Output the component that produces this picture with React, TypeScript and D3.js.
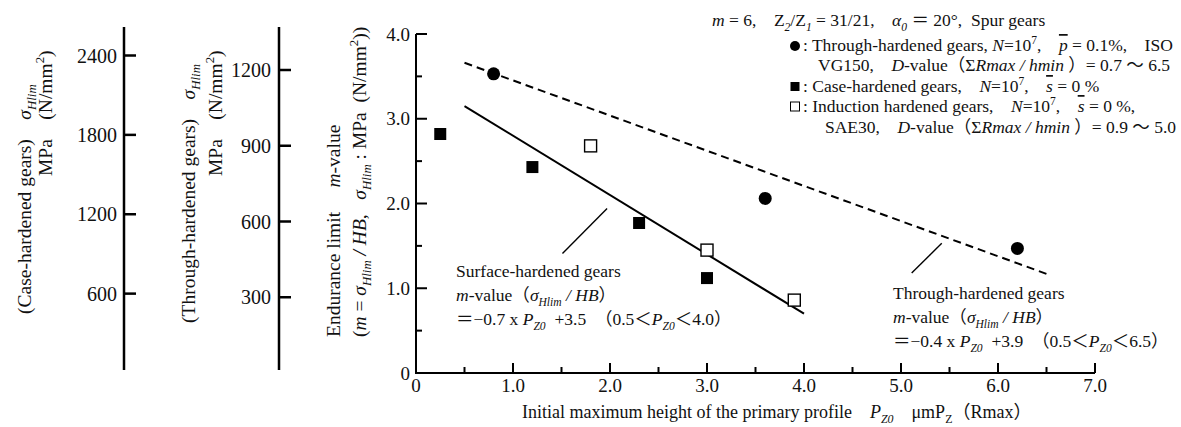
import * as d3 from 'd3';
import React from 'react';

// data
const throughX = [0.8, 3.6, 6.2];
const throughY = [3.53, 2.06, 1.47];
const caseX = [0.25, 1.2, 2.3, 3.0];
const caseY = [2.82, 2.43, 1.77, 1.12];
const inductionX = [1.8, 3.0, 3.9];
const inductionY = [2.68, 1.45, 0.86];
// fitted lines (end points)
const surfaceFitX = [0.5, 4.0];
const surfaceFitY = [3.15, 0.7];
const throughFitX = [0.5, 6.5];
const throughFitY = [3.66, 1.17];
// leader lines for the two notes
const surfaceLeaderX = [1.97, 1.51];
const surfaceLeaderY = [1.94, 1.41];
const throughLeaderX = [5.42, 5.11];
const throughLeaderY = [1.53, 1.18];

const xTicks = [0, 1, 2, 3, 4, 5, 6, 7];
const xTickLabels = ['0', '1.0', '2.0', '3.0', '4.0', '5.0', '6.0', '7.0'];
const yTicks = [0, 1, 2, 3, 4];
const yTickLabels = ['0', '1.0', '2.0', '3.0', '4.0'];
const caseTicks = [600, 1200, 1800, 2400];
const throughTicks = [300, 600, 900, 1200];

const FONT = '"Liberation Serif", "Times New Roman", "Noto Sans CJK JP", serif';

type Part = { t: string; i?: boolean; sub?: boolean; sup?: boolean; ol?: boolean };
const r = (t: string): Part => ({ t });
const it = (t: string): Part => ({ t, i: true });
const sb = (t: string, i = true): Part => ({ t, sub: true, i });
const sp = (t: string): Part => ({ t, sup: true });
const ol = (t: string): Part => ({ t, i: true, ol: true });

function Rich({ x, y, parts, size = 17.5, anchor = 'start', rotate = false }:
  { x: number; y: number; parts: Part[]; size?: number; anchor?: string; rotate?: boolean }) {
  let shift = 0;
  const spans = parts.map((p, k) => {
    const target = p.sub ? size * 0.28 : p.sup ? -size * 0.42 : 0;
    const dy = target - shift;
    shift = target;
    return (
      <tspan key={k} dy={dy || undefined}
        fontStyle={p.i ? 'italic' : undefined}
        fontSize={p.sub || p.sup ? size * 0.66 : undefined}
        textDecoration={p.ol ? 'overline' : undefined}>{p.t}</tspan>
    );
  });
  return (
    <text x={x} y={y} fontSize={size} textAnchor={anchor}
      transform={rotate ? `rotate(-90 ${x} ${y})` : undefined}
      style={{ whiteSpace: 'pre' }}>{spans}</text>
  );
}

export default function App() {
  const x = d3.scaleLinear().domain([0, 7]).range([416, 1095]);
  const y = d3.scaleLinear().domain([0, 4]).range([373, 34]);
  const yCase = d3.scaleLinear().domain([0, 2400]).range([373, 55.5]);
  const yThrough = d3.scaleLinear().domain([0, 1200]).range([373, 70]);

  const fit = (xs: number[], ys: number[]) =>
    d3.line<number>().x((d) => x(d)).y((d, i) => y(ys[i]))(xs) as string;

  const minorX = d3.range(0.5, 7, 1);
  const minorY = d3.range(0.5, 4, 1);

  const legendX = 795;
  const rows = [51, 71, 92, 112, 133];
  const LS = 17.5;

  return (
    <svg width={1181} height={427} style={{ position: 'absolute', left: 0, top: 0, background: '#fff' }}
      fontFamily={FONT} fill="#111">
      {/* left auxiliary axes */}
      <g stroke="#000" strokeWidth={2.5}>
        <line x1={124} x2={124} y1={27} y2={370} />
        {caseTicks.map((t) => <line key={t} x1={124} x2={136} y1={yCase(t)} y2={yCase(t)} />)}
        <line x1={279} x2={279} y1={27} y2={370} />
        {throughTicks.map((t) => <line key={t} x1={279} x2={291} y1={yThrough(t)} y2={yThrough(t)} />)}
      </g>
      {caseTicks.map((t) => (
        <text key={t} x={117} y={yCase(t)} dy="0.35em" fontSize={20} textAnchor="end">{t}</text>
      ))}
      {throughTicks.map((t) => (
        <text key={t} x={271} y={yThrough(t)} dy="0.35em" fontSize={20} textAnchor="end">{t}</text>
      ))}
      <Rich rotate x={31} y={314} size={19.5} parts={[r('(Case-hardened gears)    '), it('σ'), sb('Hlim')]} />
      <Rich rotate x={52} y={176} size={19.5} parts={[r('MPa    (N/mm'), sp('2'), r(')')]} />
      <Rich rotate x={195} y={323} size={19.5} parts={[r('(Through-hardened gears)    '), it('σ'), sb('Hlim')]} />
      <Rich rotate x={222} y={176} size={19.5} parts={[r('MPa    (N/mm'), sp('2'), r(')')]} />
      <Rich rotate x={340} y={337} size={19.5} parts={[r('Endurance limit     '), it('m'), r('-value')]} />
      <Rich rotate x={366} y={337} size={19.5}
        parts={[r('('), it('m'), r(' = '), it('σ'), sb('Hlim'), it(' / HB'), r(',   '), it('σ'), sb('Hlim'), r(' : MPa  (N/mm'), sp('2'), r('))')]} />

      {/* main axes */}
      <g stroke="#000" strokeWidth={2}>
        <line x1={x(0)} x2={x(0)} y1={y(4)} y2={y(0) + 1} />
        <line x1={x(0) - 1} x2={x(7)} y1={y(0)} y2={y(0)} />
        {yTicks.slice(1).map((t) => <line key={t} x1={x(0)} x2={x(0) + 11} y1={y(t)} y2={y(t)} />)}
        {minorY.map((t) => <line key={t} x1={x(0)} x2={x(0) + 6} y1={y(t)} y2={y(t)} />)}
        {xTicks.slice(1).map((t) => <line key={t} x1={x(t)} x2={x(t)} y1={y(0)} y2={y(0) - 10} />)}
        {minorX.map((t) => <line key={t} x1={x(t)} x2={x(t)} y1={y(0)} y2={y(0) - 6} />)}
      </g>
      {yTicks.map((t, i) => (
        <text key={t} x={x(0) - 6} y={y(t)} dy="0.35em" fontSize={19} textAnchor="end">{yTickLabels[i]}</text>
      ))}
      {xTicks.map((t, i) => (
        <text key={t} x={x(t)} y={392} fontSize={19} textAnchor="middle">{xTickLabels[i]}</text>
      ))}
      <Rich x={522} y={418} size={18}
        parts={[r('Initial maximum height of the primary profile    '), it('P'), sb('Z0'), r('    μmP'), sb('Z', false), r('（Rmax）')]} />

      {/* fitted lines */}
      <path d={fit(throughFitX, throughFitY)} stroke="#000" strokeWidth={2} strokeDasharray="8,5" fill="none" />
      <path d={fit(surfaceFitX, surfaceFitY)} stroke="#000" strokeWidth={2} fill="none" />
      <path d={fit(surfaceLeaderX, surfaceLeaderY)} stroke="#000" strokeWidth={1.4} fill="none" />
      <path d={fit(throughLeaderX, throughLeaderY)} stroke="#000" strokeWidth={1.4} fill="none" />

      {/* points */}
      {throughX.map((v, i) => <circle key={i} cx={x(v)} cy={y(throughY[i])} r={6.5} fill="#000" />)}
      {caseX.map((v, i) => <rect key={i} x={x(v) - 6} y={y(caseY[i]) - 6} width={12} height={12} fill="#000" />)}
      {inductionX.map((v, i) => (
        <rect key={i} x={x(v) - 6} y={y(inductionY[i]) - 6} width={12} height={12} fill="#fff" stroke="#000" strokeWidth={1.4} />
      ))}

      {/* notes */}
      <Rich x={456} y={277} parts={[r('Surface-hardened gears')]} />
      <Rich x={456} y={301} parts={[it('m'), r('-value（'), it('σ'), sb('Hlim'), it(' / HB'), r('）')]} />
      <Rich x={456} y={325} parts={[r('＝−0.7 x '), it('P'), sb('Z0'), r('  +3.5　（0.5＜'), it('P'), sb('Z0'), r('＜4.0）')]} />
      <Rich x={893} y={299} parts={[r('Through-hardened gears')]} />
      <Rich x={893} y={323} parts={[it('m'), r('-value（'), it('σ'), sb('Hlim'), it(' / HB'), r('）')]} />
      <Rich x={893} y={347} parts={[r('＝−0.4 x '), it('P'), sb('Z0'), r('  +3.9　（0.5＜'), it('P'), sb('Z0'), r('＜6.5）')]} />

      {/* legend */}
      <Rich x={712} y={26} size={LS}
        parts={[it('m'), r(' = 6,    Z'), sb('2'), r('/Z'), sb('1'), r(' = 31/21,    '), it('α'), sb('0'), r(' ＝ 20°,  Spur gears')]} />
      <circle cx={legendX} cy={rows[0] - 5} r={5} fill="#000" />
      <Rich x={803} y={rows[0]} size={LS}
        parts={[r(': Through-hardened gears, '), it('N'), r('=10'), sp('7'), r(',    '), ol('p'), r(' = 0.1%,    ISO')]} />
      <Rich x={818} y={rows[1]} size={LS}
        parts={[r('VG150,    '), it('D'), r('-value（Σ'), it('Rmax / hmin'), r(' ）= 0.7 ～ 6.5')]} />
      <rect x={legendX - 4.5} y={rows[2] - 10} width={9} height={9} fill="#000" />
      <Rich x={803} y={rows[2]} size={LS}
        parts={[r(': Case-hardened gears,    '), it('N'), r('=10'), sp('7'), r(',    '), ol('s'), r(' = 0 %')]} />
      <rect x={legendX - 4.5} y={rows[3] - 10} width={9} height={9} fill="#fff" stroke="#000" strokeWidth={1} />
      <Rich x={803} y={rows[3]} size={LS}
        parts={[r(': Induction hardened gears,    '), it('N'), r('=10'), sp('7'), r(',    '), ol('s'), r(' = 0 %,')]} />
      <Rich x={825} y={rows[4]} size={LS}
        parts={[r('SAE30,    '), it('D'), r('-value（Σ'), it('Rmax / hmin'), r(' ）= 0.9 ～ 5.0')]} />
    </svg>
  );
}
